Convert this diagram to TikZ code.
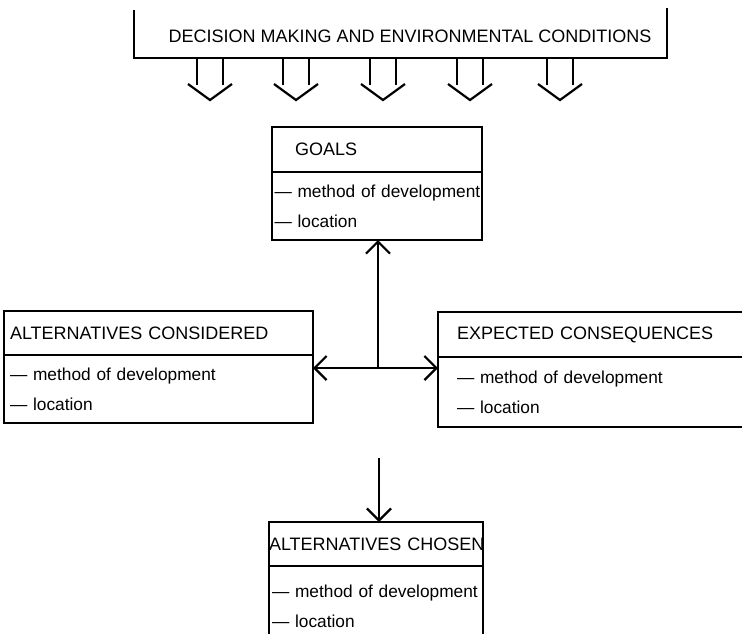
\documentclass[tikz,border=0pt]{standalone}
\usepackage{fontspec}
\setmainfont{Liberation Sans}
\usetikzlibrary{arrows.meta}
\tikzstyle{every path}=[line width=2.2pt]
\tikzstyle{head}=[draw, rectangle, anchor=north west, align=left, inner ysep=0pt,
    outer sep=0pt, font=\fontsize{18}{20}\selectfont]
\tikzstyle{body}=[draw, rectangle, anchor=north west, align=left, inner ysep=0pt,
    outer sep=0pt, font=\fontsize{17.3}{30}\selectfont]
\tikzset{>={Straight Barb[length=12pt,width=24pt]}}

\begin{document}
\begin{tikzpicture}[x=1pt, y=-1pt]
            \useasboundingbox (0,0) rectangle (742,633);

            \draw (134,10) |- (667,58) -- (667,8);
            \node[font=\fontsize{18}{20}\selectfont] (cond) at (410,36)
                {DECISION MAKING AND ENVIRONMENTAL CONDITIONS};
            \foreach \x in {210,296,383,470,560} {
                \draw (\x-13,59) -- (\x-13,85);
                \draw (\x+13,59) -- (\x+13,85);
                \draw (\x-22,84) -- (\x,100) -- (\x+22,84);
            }

            \node[head, text width=164pt, inner xsep=23pt, minimum height=45pt] (goalsHead)
                at (272,127) {GOALS};
            \node[body, text width=205pt, inner xsep=2.5pt, minimum height=68pt] (goalsBody)
                at (goalsHead.south west) {\mbox{--- method of development}\\--- location};

            \node[head, text width=297pt, inner xsep=6pt, minimum height=44pt] (consHead)
                at (4,311) {ALTERNATIVES CONSIDERED};
            \node[body, text width=297pt, inner xsep=6pt, minimum height=68pt] (consBody)
                at (consHead.south west) {--- method of development\\--- location};

            \node[head, text width=302pt, inner xsep=19pt, minimum height=45pt] (expHead)
                at (438,312) {EXPECTED CONSEQUENCES};
            \node[body, text width=302pt, inner xsep=19pt, minimum height=70pt] (expBody)
                at (expHead.south west) {--- method of development\\--- location};

            \node[head, text width=214pt, inner xsep=0pt, minimum height=44pt] (choiceHead)
                at (269,522) {\mbox{ALTERNATIVES CHOSEN}};
            \node[body, text width=208pt, inner xsep=3pt, minimum height=80pt] (choiceBody)
                at (choiceHead.south west) {\mbox{--- method of development}\\--- location};

            \coordinate (junc) at (378,368);
            \draw[<->] (junc -| consBody.east) -- (junc -| expBody.west);
            \draw[->] (junc) -- (junc |- goalsBody.south);

            \coordinate (drop) at (379,458);
            \draw[->] (drop) -- (drop |- choiceHead.north);
        \end{tikzpicture}
\end{document}
